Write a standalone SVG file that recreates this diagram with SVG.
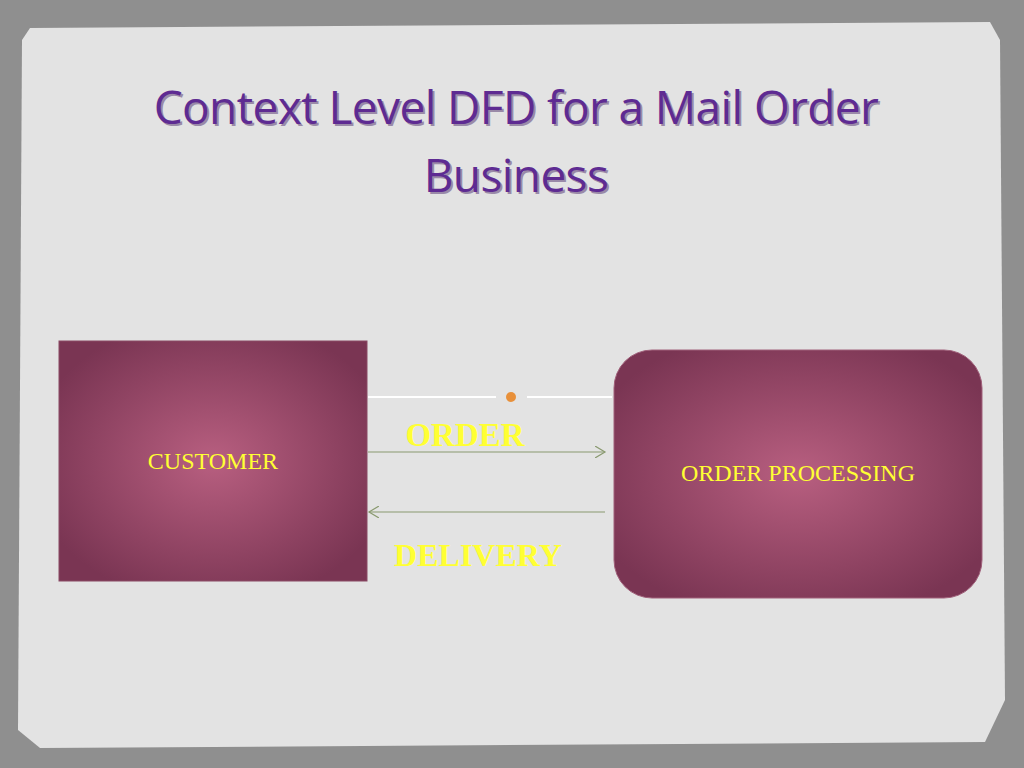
<svg xmlns="http://www.w3.org/2000/svg" width="1024" height="768" viewBox="0 0 1024 768">
<defs>
<radialGradient id="g" cx="50%" cy="50%" r="60%"><stop offset="0" stop-color="#b85f80"/><stop offset="1" stop-color="#7a3553"/></radialGradient>
<marker id="a" markerWidth="12" markerHeight="12" refX="10" refY="6" orient="auto" markerUnits="userSpaceOnUse"><path d="M0,0 L10,6 L0,12" fill="none" stroke="#8a9a70" stroke-width="1.2"/></marker>
<style>.l{font-family:"Liberation Serif",serif;fill:#ffff33}.f{stroke:#8a9a70;stroke-width:1.2}</style>
</defs>
<rect width="1024" height="768" fill="#8f8f8f"/>
<path d="M30,28 L990,22 L1000,40 L1005,700 L985,742 L40,748 L18,730 L22,40 Z" fill="#e3e3e3"/>
<g id="title" font-family="Open Sans, Lato, sans-serif" font-size="46" text-anchor="middle" letter-spacing="-0.6">
<text x="518" y="126" fill="#9a8aa8">Context Level DFD for a Mail Order</text>
<text x="518" y="194" fill="#9a8aa8">Business</text>
<text x="516" y="124" fill="#5e2b92">Context Level DFD for a Mail Order</text>
<text x="516" y="192" fill="#5e2b92">Business</text></g>
<g id="deco"><line x1="368" y1="397" x2="496" y2="397" stroke="#fff" stroke-width="2"/><line x1="527" y1="397" x2="612" y2="397" stroke="#fff" stroke-width="2"/><circle cx="511" cy="397" r="5" fill="#e8903a"/></g>
<g id="customer"><rect x="59" y="341" width="308" height="240" fill="url(#g)" stroke="#8a4a64"/>
<text x="213" y="469" text-anchor="middle" font-size="24" class="l">CUSTOMER</text></g>
<g id="processing"><rect x="614" y="350" width="368" height="248" rx="38" fill="url(#g)" stroke="#a0607a"/>
<text x="798" y="481" text-anchor="middle" font-size="24" class="l">ORDER PROCESSING</text></g>
<g id="connectors"><line class="f" x1="368" y1="452" x2="605" y2="452" marker-end="url(#a)"/>
<line class="f" x1="605" y1="512" x2="369" y2="512" marker-end="url(#a)"/>
<text x="465" y="446" text-anchor="middle" font-size="33" font-weight="bold" class="l">ORDER</text>
<text x="478" y="566" text-anchor="middle" font-size="32" font-weight="bold" class="l">DELIVERY</text></g>
</svg>
